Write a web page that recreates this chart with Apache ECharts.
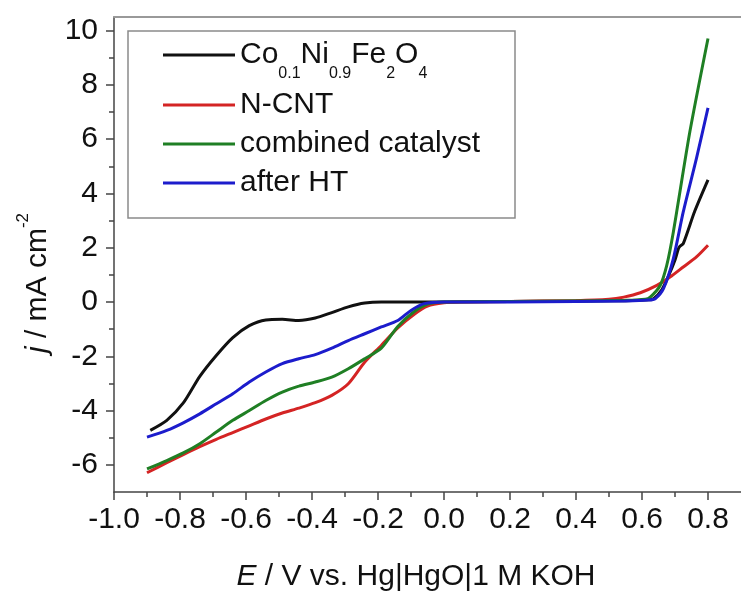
<!DOCTYPE html>
<html>
<head>
<meta charset="utf-8">
<script src="https://cdn.jsdelivr.net/npm/echarts@6/dist/echarts.min.js"></script>
<style>
  html, body { margin: 0; padding: 0; background: #fff; }
  #chart { width: 741px; height: 591px; }
</style>
</head>
<body>
<div id="chart"></div>
<script>
// Linear sweep voltammograms, potential E (V) vs. current density j (mA cm^-2)
const seriesNames = ['Co0.1Ni0.9Fe2O4', 'N-CNT', 'combined catalyst', 'after HT'];

const potentialCo = [-0.89, -0.84, -0.79, -0.74, -0.69, -0.64, -0.59, -0.54, -0.49, -0.44, -0.39, -0.34, -0.29, -0.24, -0.19, -0.10, 0.0, 0.2, 0.4, 0.55, 0.62, 0.635, 0.66, 0.68, 0.70, 0.71, 0.715, 0.725, 0.76, 0.80];
const currentCo = [-4.73, -4.36, -3.72, -2.74, -1.97, -1.31, -0.87, -0.66, -0.64, -0.68, -0.59, -0.39, -0.18, -0.04, 0.0, 0.0, 0.0, 0.02, 0.04, 0.05, 0.08, 0.12, 0.45, 0.95, 1.55, 1.95, 2.05, 2.15, 3.35, 4.5];

const potentialCNT = [-0.90, -0.84, -0.79, -0.74, -0.69, -0.64, -0.59, -0.54, -0.49, -0.44, -0.39, -0.34, -0.29, -0.24, -0.19, -0.14, -0.09, -0.05, 0.0, 0.05, 0.2, 0.4, 0.5, 0.545, 0.595, 0.645, 0.685, 0.725, 0.765, 0.80];
const currentCNT = [-6.29, -5.92, -5.62, -5.33, -5.06, -4.81, -4.56, -4.31, -4.09, -3.91, -3.71, -3.44, -3.01, -2.21, -1.60, -0.95, -0.45, -0.15, -0.03, 0.0, 0.02, 0.05, 0.10, 0.18, 0.34, 0.61, 0.92, 1.29, 1.66, 2.09];

const potentialComb = [-0.90, -0.84, -0.79, -0.74, -0.69, -0.64, -0.59, -0.54, -0.49, -0.44, -0.39, -0.34, -0.29, -0.24, -0.19, -0.14, -0.09, -0.05, 0.0, 0.2, 0.4, 0.55, 0.61, 0.625, 0.655, 0.675, 0.695, 0.745, 0.80];
const currentComb = [-6.15, -5.84, -5.56, -5.22, -4.79, -4.36, -4.00, -3.63, -3.32, -3.10, -2.95, -2.77, -2.46, -2.09, -1.70, -0.90, -0.35, -0.08, 0.0, 0.02, 0.04, 0.06, 0.10, 0.18, 0.61, 1.35, 2.58, 6.27, 9.71];

const potentialHT = [-0.90, -0.84, -0.79, -0.74, -0.69, -0.64, -0.59, -0.54, -0.49, -0.44, -0.39, -0.34, -0.29, -0.24, -0.19, -0.14, -0.10, -0.06, 0.0, 0.2, 0.4, 0.55, 0.62, 0.64, 0.665, 0.695, 0.725, 0.765, 0.80];
const currentHT = [-4.98, -4.73, -4.45, -4.12, -3.75, -3.38, -2.95, -2.58, -2.27, -2.09, -1.94, -1.70, -1.42, -1.17, -0.92, -0.68, -0.31, -0.06, 0.0, 0.0, 0.02, 0.04, 0.07, 0.12, 0.49, 1.60, 3.32, 5.29, 7.15];

const xMajorTicks = [-1.0, -0.8, -0.6, -0.4, -0.2, 0.0, 0.2, 0.4, 0.6, 0.8];
const xMinorTicks = [-0.9, -0.7, -0.5, -0.3, -0.1, 0.1, 0.3, 0.5, 0.7];
const yMajorTicks = [-6, -4, -2, 0, 2, 4, 6, 8, 10];
const yMinorTicks = [-5, -3, -1, 1, 3, 5, 7, 9];

const colors = ['#111111', '#d42424', '#1f7f24', '#1c1ccc'];
const FONT = '"Liberation Sans", Arial, Helvetica, sans-serif';
const AXIS_COLOR = '#444';

function zip(xs, ys) {
  return xs.map((x, i) => [x, ys[i]]);
}

const curves = [
  zip(potentialCo, currentCo),
  zip(potentialCNT, currentCNT),
  zip(potentialComb, currentComb),
  zip(potentialHT, currentHT)
];

const chart = echarts.init(document.getElementById('chart'), null, { renderer: 'canvas' });

const legendTops = [28, 88, 127, 166];

const legends = seriesNames.map((name, i) => ({
  data: [name],
  left: 163,
  top: legendTops[i],
  orient: 'vertical',
  padding: 0,
  icon: 'rect',
  itemWidth: 72,
  itemHeight: 3,
  selectedMode: false,
  formatter: i === 0
    ? () => '{a|Co}{s|0.1}{a|Ni}{s|0.9}{a|Fe}{s|2}{a|O}{s|4}'
    : undefined,
  textStyle: {
    fontSize: 30,
    fontFamily: FONT,
    color: '#111',
    lineHeight: 34,
    rich: {
      a: { fontSize: 30, fontFamily: FONT, color: '#111', lineHeight: 34, verticalAlign: 'middle' },
      s: { fontSize: 16, fontFamily: FONT, color: '#111', lineHeight: 18, verticalAlign: 'middle', padding: [38, 0, 0, 0] }
    }
  }
}));

const xBase = { type: 'value', min: -1.0, max: 0.9, gridIndex: 0, splitLine: { show: false } };
const yBase = { type: 'value', min: -7, max: 10.5, gridIndex: 0, splitLine: { show: false } };

const option = {
  animation: false,
  backgroundColor: '#ffffff',
  grid: { left: 114, top: 17, right: -4, bottom: 99, containLabel: false },
  legend: legends,
  xAxis: [
    Object.assign({}, xBase, {
      position: 'bottom',
      axisLine: { show: true, onZero: false, lineStyle: { color: AXIS_COLOR, width: 1.5 } },
      axisTick: { show: true, inside: false, length: 8, customValues: xMajorTicks, lineStyle: { color: AXIS_COLOR, width: 1.5 } },
      axisLabel: {
        show: true, margin: 13, customValues: xMajorTicks,
        formatter: v => v.toFixed(1),
        fontSize: 30, fontFamily: FONT, color: '#111'
      }
    }),
    Object.assign({}, xBase, {
      position: 'bottom',
      axisLine: { show: false, onZero: false },
      axisTick: { show: true, inside: false, length: 5, customValues: xMinorTicks, lineStyle: { color: AXIS_COLOR, width: 1.5 } },
      axisLabel: { show: false }
    }),
    Object.assign({}, xBase, {
      position: 'top',
      axisLine: { show: true, onZero: false, lineStyle: { color: '#999', width: 2 } },
      axisTick: { show: false },
      axisLabel: { show: false }
    })
  ],
  yAxis: [
    Object.assign({}, yBase, {
      position: 'left',
      axisLine: { show: true, onZero: false, lineStyle: { color: AXIS_COLOR, width: 1.5 } },
      axisTick: { show: true, inside: false, length: 8, customValues: yMajorTicks, lineStyle: { color: AXIS_COLOR, width: 1.5 } },
      axisLabel: {
        show: true, margin: 16, customValues: yMajorTicks,
        formatter: v => String(Math.round(v)),
        fontSize: 30, fontFamily: FONT, color: '#111'
      }
    }),
    Object.assign({}, yBase, {
      position: 'left',
      axisLine: { show: false, onZero: false },
      axisTick: { show: true, inside: false, length: 5, customValues: yMinorTicks, lineStyle: { color: AXIS_COLOR, width: 1.5 } },
      axisLabel: { show: false }
    })
  ],
  series: curves.map((data, i) => ({
    name: seriesNames[i],
    type: 'line',
    xAxisIndex: 0,
    yAxisIndex: 0,
    data: data,
    showSymbol: false,
    symbol: 'none',
    smooth: 0.25,
    color: colors[i],
    lineStyle: { color: colors[i], width: 3 },
    emphasis: { disabled: true },
    z: 2 + i
  })),
  graphic: [
    {
      // legend frame
      type: 'rect',
      shape: { x: 128, y: 31, width: 387, height: 187 },
      style: { fill: 'none', stroke: '#8a8a8a', lineWidth: 1.5 },
      z: 1
    },
    {
      // x-axis title
      type: 'text',
      x: 416,
      y: 577,
      style: {
        text: '{i|E}{n| / V vs. Hg|HgO|1 M KOH}',
        align: 'center',
        verticalAlign: 'middle',
        fontSize: 30,
        fontFamily: FONT,
        fill: '#111',
        rich: {
          i: { fontSize: 30, fontFamily: FONT, fontStyle: 'italic', fill: '#111' },
          n: { fontSize: 30, fontFamily: FONT, fontStyle: 'normal', fill: '#111' }
        }
      }
    },
    {
      // y-axis title
      type: 'text',
      x: 38,
      y: 283,
      rotation: Math.PI / 2,
      style: {
        text: '{i|j}{n| / mA cm}{sup|-2}',
        align: 'center',
        verticalAlign: 'middle',
        fontSize: 30,
        fontFamily: FONT,
        fill: '#111',
        rich: {
          i: { fontSize: 30, fontFamily: FONT, fontStyle: 'italic', fill: '#111', lineHeight: 34, verticalAlign: 'middle' },
          n: { fontSize: 30, fontFamily: FONT, fontStyle: 'normal', fill: '#111', lineHeight: 34, verticalAlign: 'middle' },
          sup: { fontSize: 17, fontFamily: FONT, fontStyle: 'normal', fill: '#111', lineHeight: 20, verticalAlign: 'middle', padding: [0, 0, 30, 0] }
        }
      }
    }
  ]
};

chart.setOption(option);
</script>
</body>
</html>
